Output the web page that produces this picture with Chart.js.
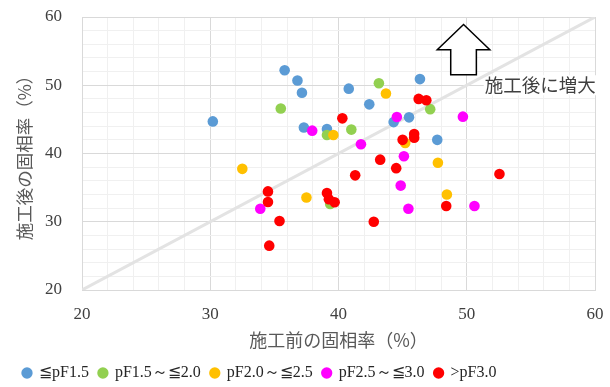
<!DOCTYPE html>
<html><head><meta charset="utf-8">
<script src="https://cdn.jsdelivr.net/npm/chart.js@4/dist/chart.umd.min.js"></script>
<style>html,body{margin:0;padding:0;background:#fff;}#wrap{width:610px;height:387px;}</style>
</head><body><div id="wrap"><canvas id="c" width="610" height="387"></canvas></div>
<script>
// ---- data ----
const seriesNames = ['≦pF1.5', 'pF1.5～≦2.0', 'pF2.0～≦2.5', 'pF2.5～≦3.0', '>pF3.0'];
const seriesColors = ['#5B9BD5', '#92D050', '#FFC000', '#FF00FF', '#FF0000'];

const pf15X = [35.8, 36.8, 37.15, 40.8, 42.4, 30.2, 37.3, 39.1, 46.35, 45.5, 44.3, 47.7];
const pf15Y = [52.2, 50.7, 48.9, 49.5, 47.2, 44.7, 43.8, 43.6, 50.9, 45.3, 44.6, 42.0];

const pf20X = [35.5, 41.0, 39.1, 43.15, 47.15, 39.35];
const pf20Y = [46.6, 43.5, 42.7, 50.3, 46.5, 32.6];

const pf25X = [39.6, 32.5, 43.7, 45.2, 47.75, 37.5, 48.45];
const pf25Y = [42.7, 37.75, 48.8, 41.55, 38.65, 33.55, 34.0];

const pf30X = [37.95, 41.75, 44.55, 49.7, 45.1, 44.85, 45.45, 50.6, 33.9];
const pf30Y = [43.35, 41.35, 45.35, 45.4, 39.6, 35.3, 31.9, 32.3, 31.9];

const pfOverX = [40.3, 46.25, 46.85, 45.9, 45.9, 45.0, 43.25, 44.5, 41.3, 52.55, 34.5, 34.5, 39.1, 39.25, 39.7, 48.4, 35.4, 42.75, 34.6];
const pfOverY = [45.15, 48.0, 47.8, 42.85, 42.3, 42.0, 39.1, 37.85, 36.8, 37.0, 34.45, 32.9, 34.2, 33.3, 32.85, 32.3, 30.1, 30.0, 26.5];

const equalLine = [20, 60];          // y = x reference line end values
const xTickLabels = [20, 30, 40, 50, 60];
const yTickLabels = [20, 30, 40, 50, 60];
const xTitle = '施工前の固相率（%）';
const yTitle = '施工後の固相率（%）';
const noteText = '施工後に増大';

// ---- build ----
const seriesX = [pf15X, pf20X, pf25X, pf30X, pfOverX];
const seriesY = [pf15Y, pf20Y, pf25Y, pf30Y, pfOverY];
const pts = (xs, ys) => xs.map((x, i) => ({x, y: ys[i]}));

const datasets = seriesNames.map((name, i) => ({
  type: 'scatter',
  label: name,
  data: pts(seriesX[i], seriesY[i]),
  backgroundColor: seriesColors[i],
  borderColor: seriesColors[i],
  pointRadius: 5.3,
  pointBorderWidth: 0,
  pointHoverRadius: 5.3,
  order: 5 - i
}));
datasets.push({
  type: 'line',
  label: '',
  data: equalLine.map(v => ({x: v, y: v})),
  borderColor: '#E3E3E3',
  borderWidth: 3,
  pointRadius: 0,
  fill: false,
  order: 20
});

const serif = "'Liberation Serif','Times New Roman',serif";
const gothic = "'Noto Sans CJK JP','Noto Sans',sans-serif";

const gridColor = (ctx) => (ctx.tick && ctx.tick.value % 10 === 0) ? '#D9D9D9' : '#F0F0F0';
const tickCb = (labels) => (v) => labels.includes(v) ? String(v) : '';

const annot = {
  arrow: [[49.75, 58.9], [51.8, 55.2], [50.75, 55.2], [50.75, 51.55], [48.75, 51.55], [48.75, 55.2], [47.7, 55.2]],
  textAt: [51.4, 50.0]
};

const annotPlugin = {
  id: 'annot',
  afterLayout(chart) {
    const lg = chart.legend;
    if (lg) { lg.left += 13; lg.right += 13; lg.top += 4; lg.bottom += 4; }
  },
  beforeDatasetsDraw(chart) {
    const {ctx, scales: {x, y}} = chart;
    ctx.save();
    ctx.beginPath();
    annot.arrow.forEach((p, i) => {
      const px = x.getPixelForValue(p[0]), py = y.getPixelForValue(p[1]);
      if (i === 0) ctx.moveTo(px, py); else ctx.lineTo(px, py);
    });
    ctx.closePath();
    ctx.fillStyle = '#FFFFFF';
    ctx.fill();
    ctx.lineWidth = 1.5;
    ctx.strokeStyle = '#000000';
    ctx.lineJoin = 'miter';
    ctx.stroke();
    ctx.font = "18.5px " + gothic;
    const tx = x.getPixelForValue(annot.textAt[0]), ty = y.getPixelForValue(annot.textAt[1]);
    const w = ctx.measureText(noteText).width;
    ctx.fillStyle = '#FFFFFF';
    ctx.fillRect(tx - 1, ty - 10, w + 2, 20);
    ctx.fillStyle = '#404040';
    ctx.textBaseline = 'middle';
    ctx.textAlign = 'left';
    ctx.fillText(noteText, tx, ty);
    ctx.restore();
  }
};

new Chart(document.getElementById('c'), {
  data: {datasets},
  plugins: [annotPlugin],
  options: {
    responsive: false,
    animation: false,
    devicePixelRatio: 1,
    layout: {padding: {top: 17, right: 15, left: 0, bottom: 0}},
    plugins: {
      tooltip: {enabled: false},
      legend: {
        position: 'bottom',
        align: 'start',
        labels: {
          usePointStyle: true,
          pointStyle: 'circle',
          boxWidth: 8,
          boxHeight: 8,
          padding: 10,
          color: '#262626',
          font: {family: serif, size: 16},
          filter: (item) => item.text !== '',
          sort: (a, b) => a.datasetIndex - b.datasetIndex
        }
      }
    },
    scales: {
      x: {
        type: 'linear', min: 20, max: 60,
        afterFit: (s) => {
          s.height = 387 - 290 - s.chart.legend.height;
          s.paddingLeft = 0; s.paddingRight = 0;
        },
        ticks: {stepSize: 2, autoSkip: false, maxRotation: 0, padding: 14,
                color: '#404040', font: {family: serif, size: 17}, callback: tickCb(xTickLabels)},
        grid: {color: gridColor, drawTicks: false, lineWidth: 1},
        border: {display: true, color: '#D9D9D9', width: 1},
        title: {display: true, text: xTitle, color: '#595959',
                font: {family: gothic, size: 18}, padding: {top: 2, bottom: 0}}
      },
      y: {
        type: 'linear', min: 20, max: 60,
        afterFit: (s) => {
          s.width = 82;
          s.paddingTop = 0; s.paddingBottom = 0;
        },
        ticks: {stepSize: 2, autoSkip: false, padding: 20,
                color: '#404040', font: {family: serif, size: 17}, callback: tickCb(yTickLabels)},
        grid: {color: gridColor, drawTicks: false, lineWidth: 1},
        border: {display: true, color: '#D9D9D9', width: 1},
        title: {display: true, text: yTitle, color: '#595959',
                font: {family: gothic, size: 17.5}, padding: {top: 14, bottom: 0}}
      }
    }
  }
});
</script>
</body></html>
